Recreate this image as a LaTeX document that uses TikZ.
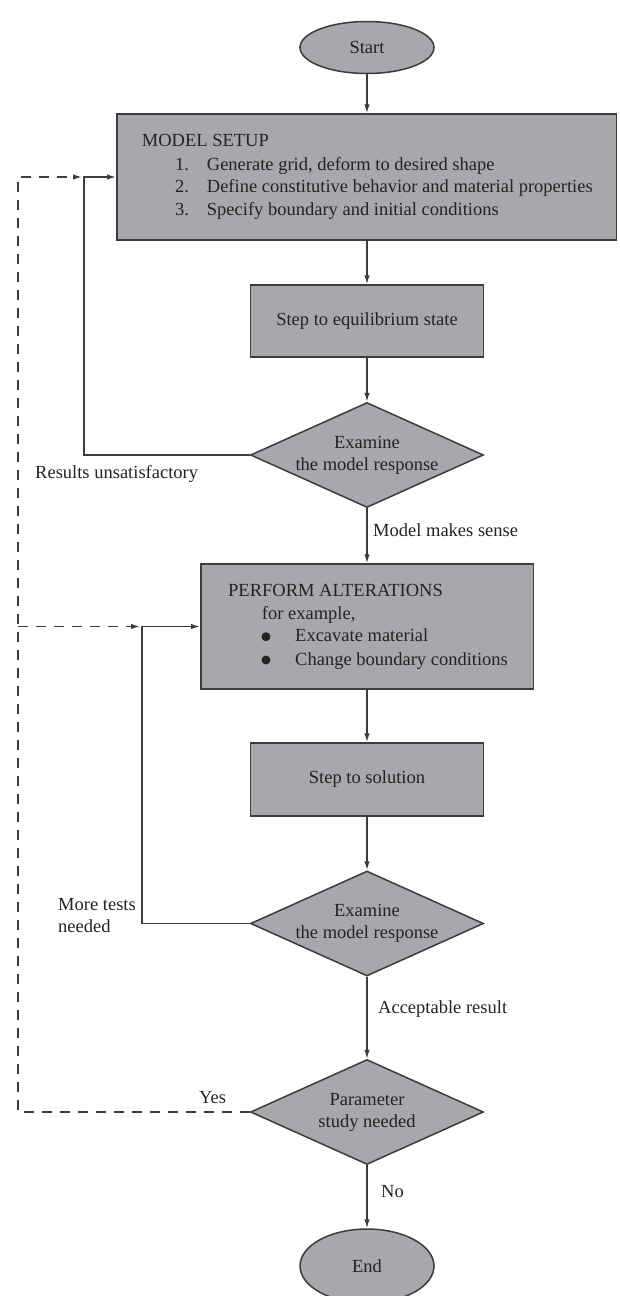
\documentclass[tikz,border=0pt]{standalone}
\usepackage{fontspec}
\setmainfont{Liberation Serif}
\usetikzlibrary{shapes.geometric,arrows.meta}
\definecolor{boxfill}{RGB}{167,168,172}
\definecolor{edge}{RGB}{60,60,60}
\definecolor{ink}{RGB}{35,35,35}
\begin{document}
\begin{tikzpicture}[x=1pt,y=-1pt,
  font=\fontsize{18.5}{22}\selectfont, text=ink,
  box/.style={draw=edge, line width=1.5pt, fill=boxfill, inner sep=0pt},
  dia/.style={diamond, draw=edge, line width=1.5pt, fill=boxfill, inner sep=0pt, minimum width=233pt, minimum height=105pt},
  term/.style={ellipse, draw=edge, line width=1.5pt, fill=boxfill, inner sep=0pt, minimum width=134pt},
  txt/.style={inner sep=0pt, anchor=base west},
  conn/.style={draw=edge, line width=1.4pt, -{Latex[length=9pt,width=5.5pt]}},
  dconn/.style={draw=edge, line width=1.5pt, dash pattern=on 10pt off 8pt, -{Latex[length=9pt,width=5.5pt]}},
  bullet/.style={circle, fill=ink, inner sep=0pt, minimum size=9pt}]
\useasboundingbox (0,0) rectangle (619,1296);

% nodes
\node[term, minimum height=52pt] (start) at (367,47.5) {Start};

\node[box, minimum width=499.5pt, minimum height=126pt] (setup) at (366.5,177) {};
\node[txt] (setupT) at (141.7,146.7) {MODEL SETUP};
\node[txt] (n1) at (175,170.7) {1.};
\node[txt] (t1) at (206.7,170.7) {Generate grid, deform to desired shape};
\node[txt] (n2) at (175,192.7) {2.};
\node[txt] (t2) at (206.7,192.7) {Define constitutive behavior and material properties};
\node[txt] (n3) at (175,215) {3.};
\node[txt] (t3) at (206.7,215) {Specify boundary and initial conditions};

\node[box, minimum width=233pt, minimum height=72pt] (step) at (367,321) {Step to equilibrium state};

\node[dia] (exam1) at (367,455) {};
\node[align=center, inner sep=0pt] (exam1T) at (exam1.center) {Examine\\the model response};

\node[box, minimum width=332.5pt, minimum height=125pt] (perform) at (367,626.5) {};
\node[txt] (perfT) at (228,596.7) {PERFORM ALTERATIONS};
\node[txt] (perfE) at (261.7,619) {for example,};
\node[bullet] (b1) at (266,636.7) {};
\node[txt] (p1) at (295,641.7) {Excavate material};
\node[bullet] (b2) at (266,660) {};
\node[txt] (p2) at (295,665) {Change boundary conditions};

\node[box, minimum width=233pt, minimum height=73pt] (sol) at (367,779.5) {Step to solution};

\node[dia] (exam2) at (367,923.5) {};
\node[align=center, inner sep=0pt] (exam2T) at (exam2.center) {Examine\\the model response};

\node[dia] (param) at (367,1112) {};
\node[align=center, inner sep=0pt] (paramT) at (param.center) {Parameter\\study needed};

\node[term, minimum height=74pt] (end) at (367,1266) {End};

% labels
\node[txt] (lRes) at (35,478) {Results unsatisfactory};
\node[txt] (lMod) at (373,536) {Model makes sense};
\node[txt] (lMore1) at (58,910) {More tests};
\node[txt] (lMore2) at (58,932) {needed};
\node[txt] (lAcc) at (378,1013) {Acceptable result};
\node[txt] (lYes) at (199,1103) {Yes};
\node[txt] (lNo) at (381,1197) {No};

% junction coordinates
\coordinate (j1) at (84,177);
\coordinate (j1d) at (82,177);
\coordinate (j2) at (142,626.5);
\coordinate (j2d) at (140,626.5);
\coordinate (d1) at (18,177);
\coordinate (d2) at (18,626.5);

% main flow
\draw[conn] (start.south) -- (start.south |- setup.north);
\draw[conn] (setup.south -| step.north) -- (step.north);
\draw[conn] (step.south) -- (exam1.north);
\draw[conn] (exam1.south) -- (perform.north);
\draw[conn] (perform.south) -- (sol.north);
\draw[conn] (sol.south) -- (exam2.north);
\draw[conn] (exam2.south) -- (param.north);
\draw[conn] (param.south) -- (end.north);

% feedback loops
\draw[conn] (exam1.west) -| (j1) -- (setup.west);
\draw[conn] (exam2.west) -| (j2) -- (perform.west);

% dashed parameter-study loop
\draw[dconn] (param.west) -| (d1) -- (j1d);
\draw[dconn] (d2) -- (j2d);
\end{tikzpicture}
\end{document}
